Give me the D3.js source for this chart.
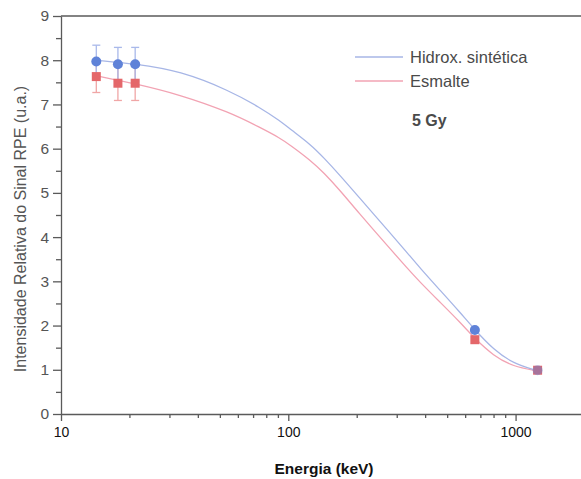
<!DOCTYPE html>
<html>
<head>
<meta charset="utf-8">
<script src="https://cdn.jsdelivr.net/npm/d3@7"></script>
<style>
  body { margin: 0; background: #fff; }
  text { font-family: "Liberation Sans", Arial, sans-serif; }
</style>
</head>
<body>
<svg id="chart" width="581" height="479"></svg>
<script>
// measured points (energy in keV)
const energies = [14.3, 17.8, 21.2, 662, 1250];
const hidroxValues = [7.97, 7.91, 7.91, 1.9, 0.99];
const hidroxErrors = [0.37, 0.38, 0.38, 0, 0];
const esmalteValues = [7.63, 7.48, 7.48, 1.68, 0.99];
const esmalteErrors = [0.36, 0.39, 0.39, 0, 0];

// fitted curves
const fitEnergies = [14.3, 21.2, 33.4, 55.4, 75, 92, 102, 125, 143, 170, 200, 280, 332, 380, 465, 569, 663, 798, 977, 1240];
const hidroxFit = [8.0, 7.92, 7.76, 7.31, 6.93, 6.63, 6.44, 6.1, 5.8, 5.38, 4.96, 4.1, 3.66, 3.3, 2.8, 2.3, 1.9, 1.46, 1.14, 0.98];
const esmalteFit = [7.65, 7.47, 7.22, 6.82, 6.48, 6.24, 6.08, 5.74, 5.46, 5.04, 4.6, 3.74, 3.31, 2.98, 2.53, 2.08, 1.7, 1.32, 1.07, 0.98];

const yTicks = [0, 1, 2, 3, 4, 5, 6, 7, 8, 9];
const xTicks = [10, 100, 1000];

var margin = {top: 16, right: -3, bottom: 65, left: 61},
  width = 581,
  height = 479;

var svg = d3.select("#chart");

var x = d3.scaleLog().domain([10, 2000]).range([margin.left, width - margin.right]);
var y = d3.scaleLinear().domain([0, 9]).range([height - margin.bottom, margin.top]);

var axisColor = "#5a5a5a";

// top frame line
svg.append("line")
  .attr("x1", margin.left).attr("x2", width)
  .attr("y1", y(9)).attr("y2", y(9))
  .attr("stroke", axisColor).attr("stroke-width", 1.3);

// y axis
var yAxis = d3.axisLeft(y).tickValues(yTicks).tickSize(8).tickSizeOuter(0).tickFormat(d3.format("d"));
var gy = svg.append("g").attr("transform", "translate(" + margin.left + ",0)").call(yAxis);
gy.selectAll("text").attr("font-size", 15.5).attr("fill", "#555").attr("dx", -1);

var yMinor = d3.axisLeft(y).tickValues(d3.range(0.5, 9, 1)).tickSize(5).tickSizeOuter(0).tickFormat("");
svg.append("g").attr("transform", "translate(" + margin.left + ",0)").call(yMinor)
  .select(".domain").remove();

// x axis
var xAxis = d3.axisBottom(x).tickValues(xTicks).tickSize(7).tickSizeOuter(0).tickFormat(d3.format("d"));
var gx = svg.append("g").attr("transform", "translate(0," + y(0) + ")").call(xAxis);
gx.selectAll("text").attr("font-size", 14).attr("fill", "#111").attr("dy", "0.9em");

var minorX = [];
[10, 100, 1000].forEach(function(base) {
  for (var k = 2; k <= 9; k++) if (base * k <= 2000) minorX.push(base * k);
});
var xMinor = d3.axisBottom(x).tickValues(minorX).tickSize(4).tickSizeOuter(0).tickFormat("");
svg.append("g").attr("transform", "translate(0," + y(0) + ")").call(xMinor)
  .select(".domain").remove();

svg.selectAll(".domain, .tick line").attr("stroke", axisColor).attr("stroke-width", 1.3);

// axis titles
svg.append("text")
  .attr("x", 324).attr("y", 474)
  .attr("text-anchor", "middle")
  .attr("font-size", 15.5).attr("font-weight", "bold").attr("fill", "#111")
  .text("Energia (keV)");

svg.append("text")
  .attr("transform", "translate(26," + 229 + ") rotate(-90)")
  .attr("text-anchor", "middle")
  .attr("font-size", 16).attr("fill", "#555")
  .text("Intensidade Relativa do Sinal RPE (u.a.)");

// fit curves
var line = d3.line()
  .x(function(d) { return x(d[0]); })
  .y(function(d) { return y(d[1]); })
  .curve(d3.curveBasis);

svg.append("path")
  .datum(fitEnergies.map(function(e, i) { return [e, esmalteFit[i]]; }))
  .attr("d", line).attr("fill", "none")
  .attr("stroke", "#f2a3b3").attr("stroke-width", 1.3);

svg.append("path")
  .datum(fitEnergies.map(function(e, i) { return [e, hidroxFit[i]]; }))
  .attr("d", line).attr("fill", "none")
  .attr("stroke", "#a7b6e6").attr("stroke-width", 1.3);

// error bars
function errorBars(values, errors, color) {
  var g = svg.append("g").attr("stroke", color).attr("stroke-width", 1.3);
  energies.forEach(function(e, i) {
    if (!errors[i]) return;
    var cx = x(e), top = y(values[i] + errors[i]), bot = y(values[i] - errors[i]);
    g.append("line").attr("x1", cx).attr("x2", cx).attr("y1", top).attr("y2", bot);
    g.append("line").attr("x1", cx - 4).attr("x2", cx + 4).attr("y1", top).attr("y2", top);
    g.append("line").attr("x1", cx - 4).attr("x2", cx + 4).attr("y1", bot).attr("y2", bot);
  });
}
errorBars(esmalteValues, esmalteErrors, "#f0a6a6");
errorBars(hidroxValues, hidroxErrors, "#a9b9ea");

// markers
svg.append("g").selectAll("rect")
  .data(energies.map(function(e, i) { return [e, esmalteValues[i]]; }))
  .join("rect")
  .attr("x", function(d) { return x(d[0]) - 4.5; })
  .attr("y", function(d) { return y(d[1]) - 4.5; })
  .attr("width", 9).attr("height", 9)
  .attr("fill", "#e4676a");

svg.append("g").selectAll("circle")
  .data(energies.map(function(e, i) { return [e, hidroxValues[i]]; }))
  .join("circle")
  .attr("cx", function(d) { return x(d[0]); })
  .attr("cy", function(d) { return y(d[1]); })
  .attr("r", 5)
  .attr("fill", "#5f82d8")
  .attr("fill-opacity", function(d, i) { return i === energies.length - 1 ? 0.45 : 1; });

// legend
var legend = svg.append("g");
legend.append("line").attr("x1", 355).attr("x2", 403).attr("y1", 57).attr("y2", 57)
  .attr("stroke", "#a7b6e6").attr("stroke-width", 1.3);
legend.append("line").attr("x1", 355).attr("x2", 403).attr("y1", 81).attr("y2", 81)
  .attr("stroke", "#f2a3b3").attr("stroke-width", 1.3);
legend.append("text").attr("x", 410).attr("y", 63).attr("font-size", 16.5).attr("fill", "#4a4a4a")
  .text("Hidrox. sintética");
legend.append("text").attr("x", 410).attr("y", 87).attr("font-size", 16.5).attr("fill", "#4a4a4a")
  .text("Esmalte");
legend.append("text").attr("x", 412).attr("y", 126).attr("font-size", 16).attr("font-weight", "bold").attr("fill", "#4a4a4a")
  .text("5 Gy");
</script>
</body>
</html>
